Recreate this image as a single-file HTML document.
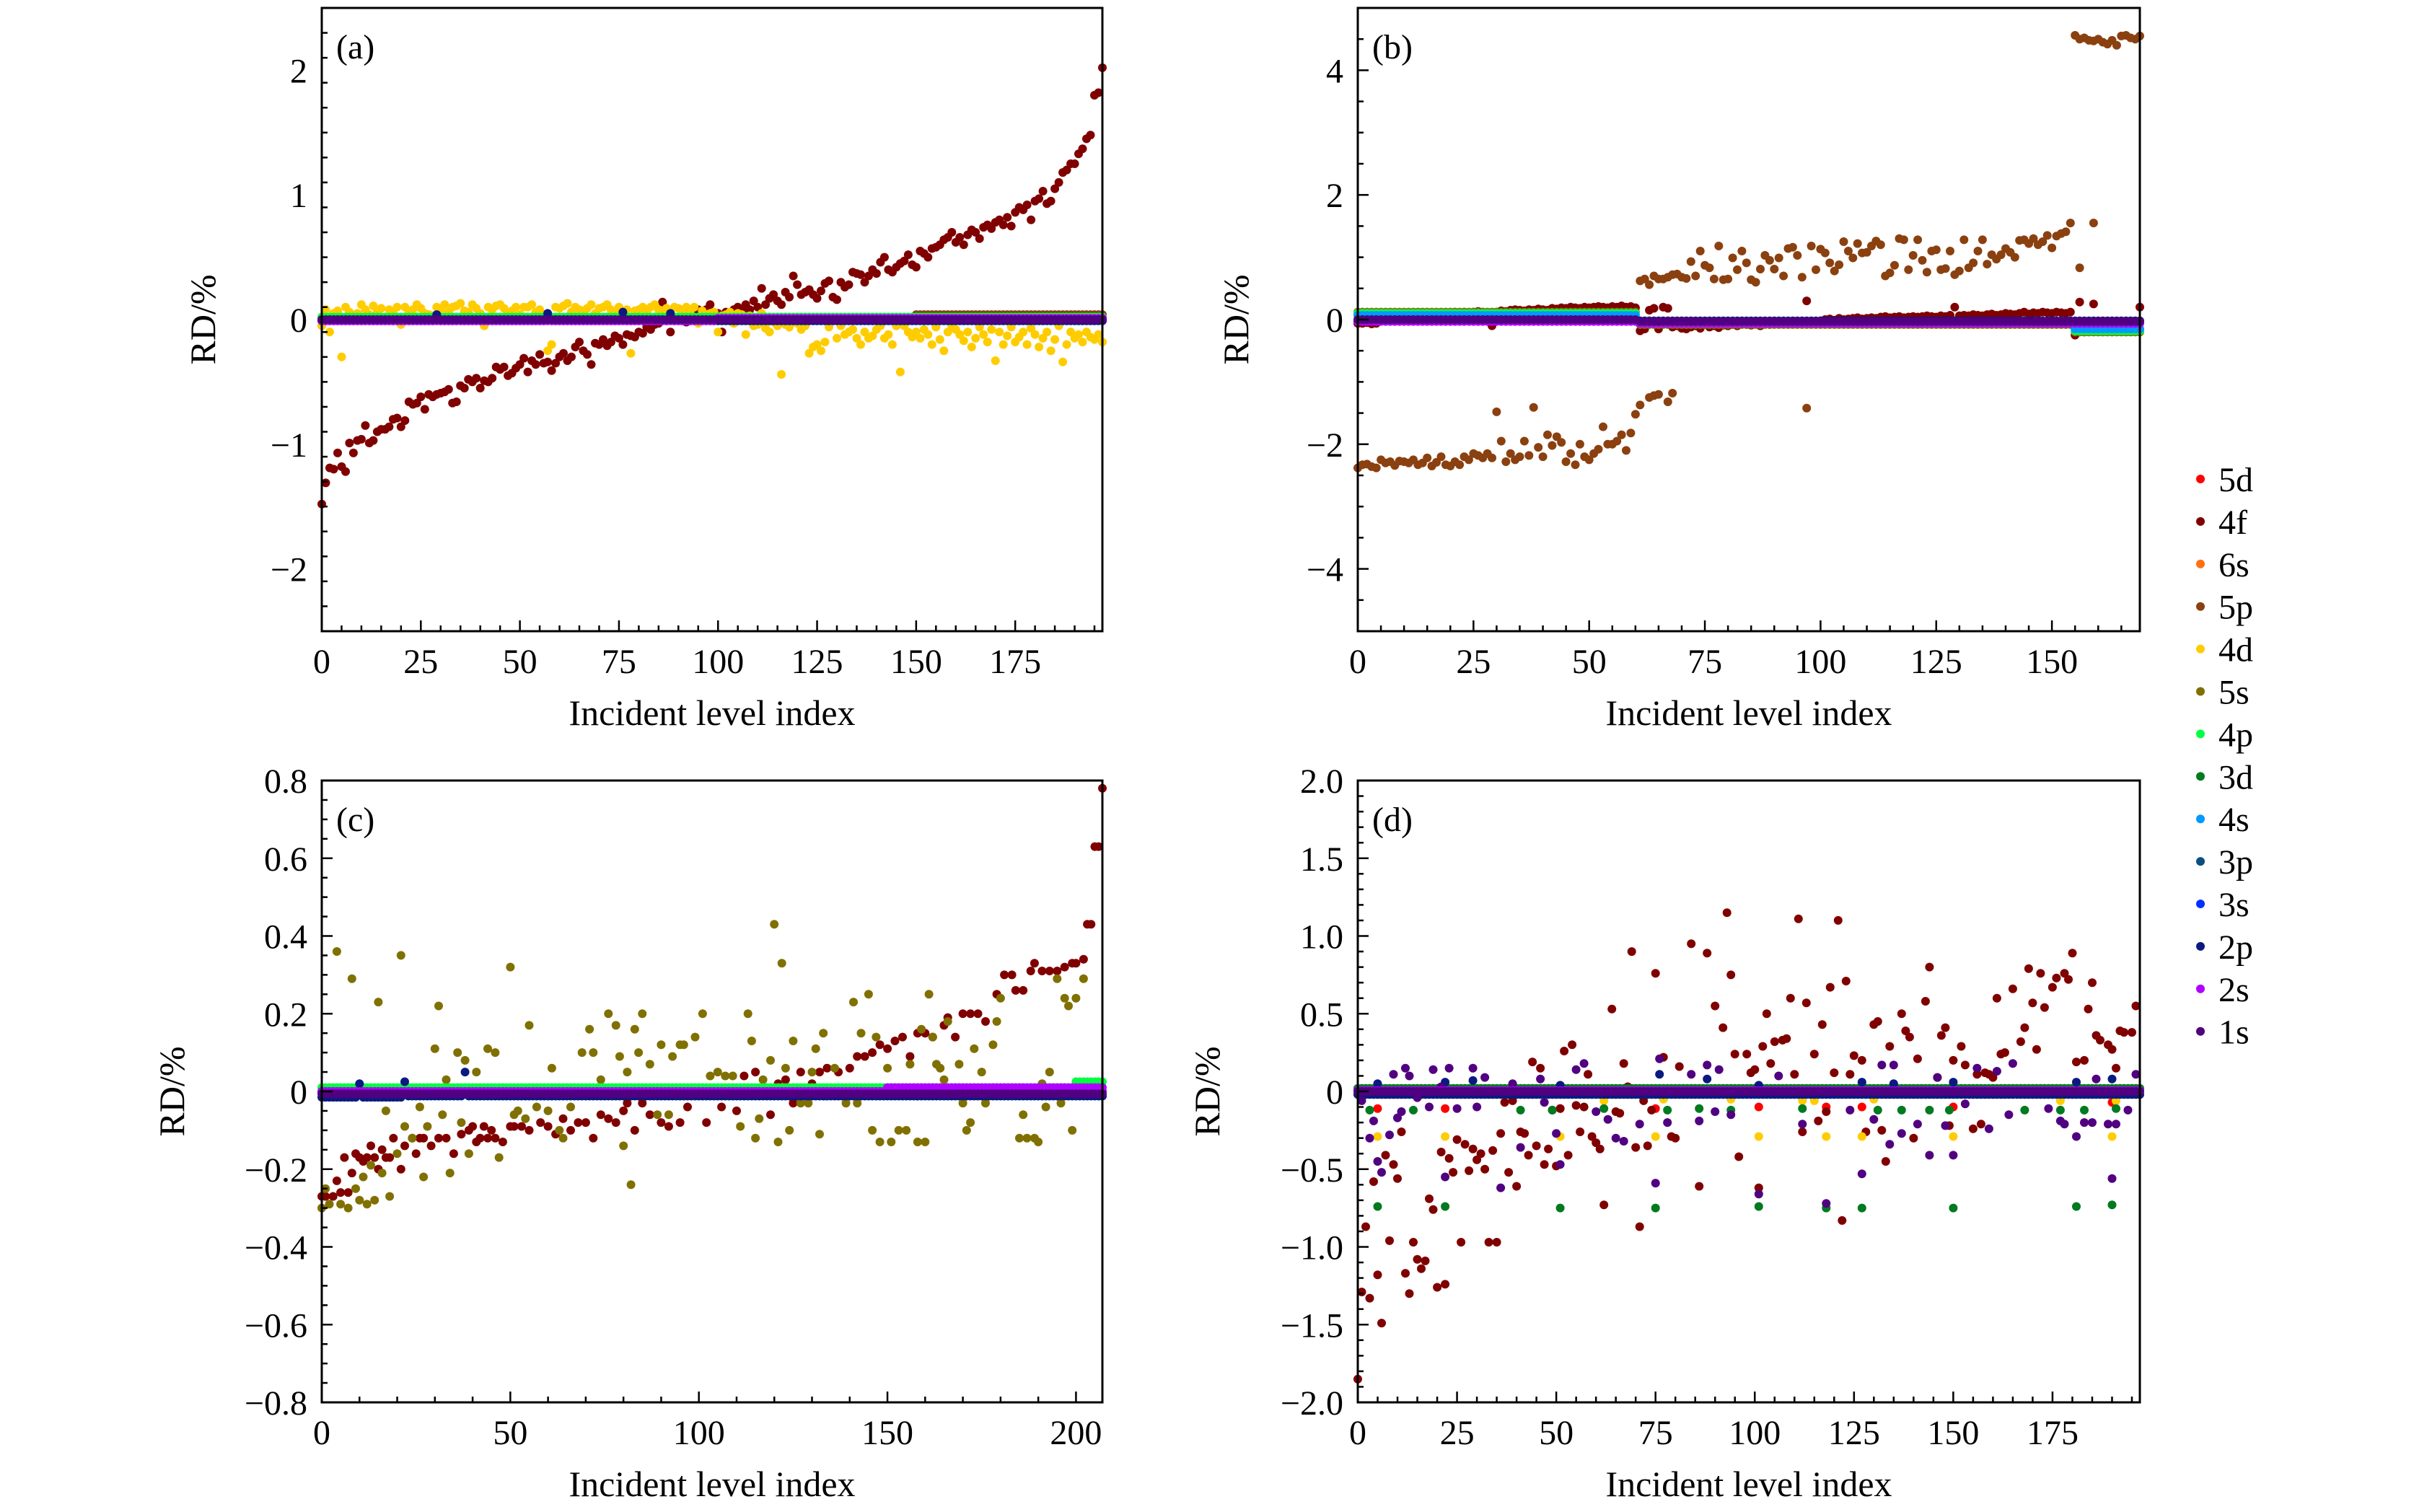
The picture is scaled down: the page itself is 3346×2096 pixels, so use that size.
<!DOCTYPE html>
<html><head><meta charset="utf-8"><title>RD scatter</title>
<style>
html,body{margin:0;padding:0;background:#fff;}
svg{display:block;font-family:"Liberation Serif",serif;}
</style></head>
<body>
<svg id="fig" xmlns="http://www.w3.org/2000/svg" width="3346" height="2096" viewBox="0 0 3346 2096"></svg>
<script>
// ---------- DATA ----------
const legendNames = ["5d","4f","6s","5p","4d","5s","4p","3d","4s","3p","3s","2p","2s","1s"];
const legendColors = ["#ff0000","#800000","#ff7010","#8b4010","#ffcc00","#807000","#00ff40","#007a20","#0099ff","#0a4f80","#0030ff","#0a1a80","#b000ff","#500080"];

// panel (a)
const a_4f = [-1.48,-1.31,-1.19,-1.2,-1.07,-1.18,-1.22,-0.99,-1.07,-0.97,
-0.96,-0.85,-0.99,-0.97,-0.9,-0.88,-0.88,-0.86,-0.8,-0.79,
-0.86,-0.81,-0.66,-0.68,-0.67,-0.62,-0.72,-0.6,-0.62,-0.6,
-0.59,-0.58,-0.56,-0.67,-0.66,-0.53,-0.55,-0.48,-0.5,-0.47,
-0.55,-0.49,-0.5,-0.47,-0.38,-0.4,-0.38,-0.45,-0.43,-0.39,
-0.36,-0.31,-0.42,-0.33,-0.36,-0.28,-0.35,-0.34,-0.41,-0.35,
-0.3,-0.27,-0.33,-0.3,-0.22,-0.18,-0.25,-0.28,-0.36,-0.19,
-0.2,-0.16,-0.21,-0.18,-0.13,-0.15,-0.2,-0.12,-0.13,-0.14,
-0.1,-0.11,-0.06,-0.08,-0.04,-0.03,0.14,-0.01,-0.1,0.02,
0.0,0.03,-0.02,0.04,0.05,0.08,0.07,0.08,0.12,0.04,
0.05,-0.1,0.06,0.04,0.08,0.1,0.07,0.12,0.08,0.15,
0.1,0.25,0.12,0.17,0.2,0.15,0.12,0.22,0.18,0.35,
0.28,0.2,0.22,0.24,0.2,0.17,0.23,0.29,0.31,0.18,
0.16,0.3,0.26,0.28,0.38,0.37,0.36,0.3,0.35,0.4,
0.37,0.46,0.5,0.4,0.38,0.42,0.45,0.47,0.52,0.44,
0.42,0.55,0.53,0.5,0.57,0.58,0.6,0.64,0.66,0.7,
0.62,0.66,0.6,0.68,0.72,0.7,0.65,0.74,0.76,0.73,
0.78,0.8,0.76,0.82,0.75,0.86,0.9,0.88,0.92,0.8,
0.95,0.97,1.03,0.93,0.95,1.05,1.1,1.18,1.2,1.25,
1.25,1.33,1.37,1.45,1.48,1.8,1.82,2.02];
const a_4d = [-0.05,0.08,-0.1,0.05,0.07,-0.3,0.1,0.06,0.02,0.05,
0.12,0.08,0.04,0.11,0.06,0.09,0.02,0.08,0.05,0.1,
-0.04,0.1,0.06,0.08,0.12,0.09,0.05,0.04,0.03,0.1,
0.08,0.12,0.06,0.1,0.11,0.13,0.07,0.06,0.12,0.09,
0.05,-0.05,0.1,0.08,0.11,0.12,0.09,0.05,0.07,0.1,
0.04,0.1,0.1,0.12,0.06,0.08,0.04,-0.25,-0.2,0.1,
0.09,0.11,0.13,0.06,0.1,0.08,0.07,0.09,0.12,0.05,
0.09,0.1,0.12,0.08,0.05,0.1,0.06,0.08,-0.27,0.07,
0.08,0.1,0.06,0.1,0.12,0.08,0.07,0.09,0.05,0.1,
0.09,0.06,0.1,0.07,0.1,-0.03,0.07,0.04,0.05,0.06,
-0.1,0.03,0.04,0.06,-0.03,0.05,0.04,-0.12,0.03,-0.05,
-0.04,0.05,-0.07,-0.1,-0.02,-0.05,-0.44,-0.04,-0.06,0.0,
-0.03,-0.08,-0.05,-0.27,-0.22,-0.2,-0.25,-0.18,-0.06,0.0,
-0.15,-0.05,-0.12,-0.1,-0.08,-0.15,-0.2,-0.1,-0.15,-0.13,
-0.08,-0.05,-0.15,-0.12,-0.2,-0.05,-0.42,-0.05,-0.1,-0.14,
-0.1,-0.15,-0.08,-0.12,-0.2,-0.06,-0.16,-0.25,-0.1,-0.05,
-0.08,-0.12,-0.17,-0.1,-0.22,-0.15,-0.06,-0.12,-0.18,-0.08,
-0.33,-0.1,-0.2,-0.13,-0.06,-0.18,-0.14,-0.1,-0.2,-0.07,
-0.12,-0.22,-0.15,-0.1,-0.25,-0.16,-0.05,-0.34,-0.2,-0.1,
-0.15,-0.12,-0.18,-0.1,-0.14,-0.16,-0.12,-0.18];
// band series as run-length data: [count, value]
const a_5p_runs = [[150,0.0],[48,0.04]];
const a_4p_runs = [[198,0.02]];
const a_2p_runs = [[29,-0.01],[1,0.04],[27,-0.01],[1,0.05],[18,-0.01],[1,0.06],[11,-0.01],[1,0.05],[109,-0.01]];
const a_2s_runs = [[100,-0.01],[98,0.01]];
const a_1s_runs = [[198,0.0]];

// panel (b)
const b_5p = [-2.38,-2.33,-2.32,-2.36,-2.38,-2.25,-2.3,-2.28,-2.34,-2.27,
-2.28,-2.3,-2.25,-2.33,-2.3,-2.22,-2.35,-2.29,-2.2,-2.33,
-2.35,-2.28,-2.33,-2.2,-2.25,-2.15,-2.18,-2.22,-2.15,-2.22,
-1.48,-1.95,-2.28,-2.15,-2.25,-2.2,-1.95,-2.18,-1.41,-2.05,
-2.2,-1.85,-2.02,-1.88,-1.97,-2.28,-2.15,-2.33,-2.0,-2.2,
-2.25,-2.15,-2.08,-1.72,-2.0,-2.0,-1.95,-1.85,-2.1,-1.82,-1.52,
0.62,0.65,0.56,0.7,0.65,0.65,0.68,0.72,0.73,0.68,
0.66,0.93,0.7,1.1,0.87,0.83,0.65,1.18,0.64,0.65,
0.99,0.8,1.1,0.91,0.64,0.6,0.81,1.03,0.95,0.81,
0.99,0.7,1.14,1.16,1.03,0.68,-1.42,1.18,0.8,1.13,
1.07,0.91,0.78,0.88,1.25,1.1,0.99,1.22,1.07,1.08,
1.18,1.26,1.2,0.7,0.75,0.87,1.3,1.28,0.8,1.03,
1.28,0.95,0.76,1.1,1.12,0.8,0.82,1.1,0.72,0.78,
1.28,0.83,0.91,1.1,1.28,0.89,1.04,0.97,1.04,1.14,
1.08,1.0,1.27,1.28,1.22,1.3,1.2,1.25,1.35,1.15,
1.34,1.38,1.41,1.55,
4.56,4.5,4.52,4.48,4.47,4.5,4.45,4.42,4.48,4.4,4.55,4.56,4.52,4.5,4.55];
const b_5p_extra_idx = [61,63,64,65,67,68,156,159];
const b_5p_extra_val = [-1.37,-1.25,-1.22,-1.2,-1.32,-1.18,0.83,1.55];
const b_4f = [-0.06,-0.06,-0.05,-0.07,-0.06,0.02,0.05,0.04,0.06,0.05,
0.06,0.08,0.07,0.09,0.08,0.1,0.09,0.1,0.11,0.1,
0.1,0.12,0.11,0.12,0.1,0.12,0.13,0.12,0.11,-0.1,
0.12,0.14,0.13,0.15,0.16,0.15,0.14,0.16,0.15,0.17,
0.16,0.15,0.18,0.17,0.19,0.18,0.2,0.19,0.18,0.2,
0.19,0.2,0.21,0.2,0.19,0.21,0.2,0.22,0.2,0.21,0.19,
-0.18,-0.15,0.15,0.18,-0.15,0.2,0.18,-0.12,-0.1,-0.14,
-0.15,-0.12,-0.1,-0.14,-0.08,-0.12,-0.1,-0.13,-0.09,-0.1,
-0.08,-0.1,-0.06,-0.08,-0.09,-0.07,-0.1,-0.06,-0.08,-0.07,
-0.06,-0.05,-0.07,-0.04,-0.05,-0.03,0.3,-0.04,-0.03,-0.02,
0.0,0.01,-0.01,0.02,0.0,0.01,0.02,0.03,0.01,0.02,
0.03,0.02,0.04,0.05,0.03,0.04,0.05,0.03,0.04,0.05,
0.04,0.05,0.06,0.05,0.04,0.06,0.05,0.07,0.2,0.06,
0.07,0.06,0.08,0.07,0.06,0.08,0.09,0.07,0.08,0.1,
0.09,0.08,0.1,0.12,0.09,0.11,0.1,0.12,0.11,0.1,
0.12,0.11,0.1,0.12,-0.25,0.28,-0.2,-0.05,0.25,-0.05,
-0.06,-0.05,-0.04,-0.06,-0.05,-0.04,-0.05,-0.06,0.2];
const b_5s_runs = [[61,0.12],[94,-0.08],[15,-0.2]];
const b_4p_runs = [[61,0.1],[94,-0.06],[15,-0.18]];
const b_4s_runs = [[61,0.07],[94,-0.04],[15,-0.15]];
const b_2p_runs = [[170,-0.02]];
const b_2s_runs = [[61,-0.03],[109,-0.06]];
const b_1s_runs = [[61,0.0],[109,-0.03]];

// panel (c)
const c_4f_idx = [0,1,3,4,5,6,7,8,9,10,11,12,13,14,15,16,17,18,19,21,22,24,25,26,27,29,31,33,35,37,39,40,41,42,43,44,45,46,48,50,51,53,55,58,60,62,64,66,68,70,72,74,76,78,80,81,83,85,87,90,92,95,97,102,106,110,112,115,119,121,123,125,127,130,132,134,137,140,142,144,146,148,150,152,154,156,158,160,162,165,166,168,170,172,174,176,179,181,183,184,186,188,189,191,193,195,197,199,200,202,203,204,205,206,207];
const c_4f_val = [-0.27,-0.27,-0.27,-0.23,-0.26,-0.17,-0.26,-0.21,-0.16,-0.17,-0.18,-0.17,-0.14,-0.17,-0.2,-0.15,-0.17,-0.17,-0.12,-0.2,-0.14,-0.12,-0.16,-0.12,-0.12,-0.14,-0.12,-0.12,-0.16,-0.11,-0.1,-0.09,-0.13,-0.12,-0.09,-0.12,-0.1,-0.12,-0.13,-0.09,-0.09,-0.09,-0.1,-0.08,-0.09,-0.11,-0.07,-0.1,-0.08,-0.08,-0.12,-0.06,-0.07,-0.08,-0.05,-0.03,-0.1,-0.03,-0.06,-0.08,-0.09,-0.08,-0.04,-0.08,-0.04,-0.05,0.04,0.05,-0.06,0.02,0.03,-0.03,0.05,0.02,0.05,0.06,0.05,0.06,0.09,0.09,0.1,0.12,0.11,0.13,0.14,0.09,0.15,0.15,0.14,0.17,0.19,0.14,0.2,0.2,0.2,0.18,0.25,0.3,0.3,0.26,0.26,0.31,0.33,0.31,0.31,0.31,0.32,0.33,0.33,0.34,0.43,0.43,0.63,0.63,0.78];
const c_5s_idx = [0,1,2,4,5,7,8,9,10,11,12,13,14,15,16,17,18,20,21,22,24,26,27,28,30,31,32,33,34,36,37,38,39,41,44,46,47,50,51,52,54,55,57,60,61,63,64,66,69,71,72,74,76,78,79,80,81,82,83,84,85,87,89,90,92,93,95,96,99,101,103,105,107,109,111,113,114,115,116,117,119,120,121,122,123,124,125,127,129,130,131,132,133,136,139,141,142,143,145,146,147,148,150,151,153,155,156,158,159,160,161,162,163,164,165,166,169,170,171,172,173,175,176,178,179,180,185,186,187,189,190,191,192,193,195,196,197,198,199,200,202];
const c_5s_val = [-0.3,-0.25,-0.29,0.36,-0.29,-0.3,0.29,-0.25,-0.28,-0.22,-0.29,-0.19,-0.28,0.23,-0.21,-0.05,-0.27,-0.16,0.35,-0.09,-0.12,-0.04,-0.22,-0.09,0.11,0.22,-0.06,0.03,-0.21,0.1,-0.08,0.08,-0.16,0.05,0.11,0.1,-0.17,0.32,-0.06,-0.05,-0.07,0.17,-0.04,-0.05,0.06,-0.1,-0.12,-0.04,0.1,0.16,0.1,0.03,0.2,0.17,0.09,-0.14,0.05,-0.24,0.16,0.1,0.2,0.07,-0.06,0.12,-0.06,0.09,0.12,0.12,0.14,0.2,0.04,0.05,0.04,0.04,-0.09,0.2,0.13,-0.12,-0.07,0.03,0.08,0.43,-0.13,0.33,0.06,-0.1,0.13,-0.03,-0.03,0.05,0.11,-0.11,0.15,0.06,-0.03,0.23,-0.03,0.15,0.25,-0.1,0.14,-0.13,0.06,-0.13,-0.1,-0.1,0.07,-0.13,0.16,-0.13,0.25,0.14,0.07,0.06,0.03,0.18,0.07,-0.03,-0.1,-0.08,0.11,0.05,-0.03,0.12,0.18,0.24,-0.12,-0.06,-0.12,-0.12,-0.13,0.02,-0.04,0.05,0.29,-0.03,0.24,0.22,-0.1,0.24,0.29];
const c_4p_runs = [[200,0.01],[8,0.025]];
const c_3p_runs = [[208,0.0]];
const c_2p_runs = [[10,-0.015],[1,0.02],[11,-0.015],[1,0.025],[15,-0.012],[1,0.05],[169,-0.012]];
const c_1s_runs = [[208,-0.006]];
const c_2s_runs = [[150,0.0],[58,0.01]];

// panel (d)
const d_4f_idx = [0,1,2,3,4,5,6,7,8,9,10,11,12,13,14,15,16,17,18,19,20,21,22,23,24,25,26,27,28,29,30,31,32,33,34,35,36,37,38,39,40,41,42,43,44,45,46,47,48,49,50,51,52,53,54,55,56,57,58,59,60,61,62,64,65,66,67,68,69,70,71,72,73,74,75,77,79,80,81,84,86,88,90,92,93,94,95,96,98,99,100,101,102,103,104,105,107,108,109,110,111,112,113,115,116,117,118,119,120,121,122,123,124,125,127,128,130,131,132,133,134,137,138,139,140,141,143,144,146,147,148,149,150,152,153,155,156,157,158,159,160,161,162,163,165,167,168,169,170,171,172,173,175,176,178,179,180,181,183,184,185,186,187,189,190,191,192,193,195,196];
const d_4f_val = [-1.85,-1.29,-0.87,-1.33,-0.58,-1.18,-1.49,-0.41,-0.96,-0.47,-0.56,-0.26,-1.17,-1.3,-0.97,-1.08,-1.14,-1.09,-0.69,-0.76,-1.26,-0.39,-1.24,-0.43,-0.52,-0.31,-0.97,-0.34,-0.51,-0.37,-0.44,-0.4,-0.5,-0.97,-0.38,-0.97,-0.27,-0.07,-0.52,-0.06,-0.61,-0.26,-0.27,-0.41,0.19,-0.35,0.15,-0.47,-0.37,-0.12,-0.48,-0.11,0.26,-0.41,0.3,-0.09,-0.26,-0.1,0.11,-0.29,-0.33,-0.37,-0.73,0.53,-0.13,-0.14,0.18,0.03,0.9,-0.36,-0.87,-0.06,-0.35,-0.12,0.76,0.22,-0.29,-0.3,0.16,0.95,-0.61,0.89,0.55,0.41,1.15,0.75,0.24,-0.42,0.24,0.12,0.14,-0.62,0.29,0.5,0.18,0.32,0.33,0.34,0.6,0.11,1.11,-0.26,0.57,0.24,-0.19,0.43,-0.13,0.67,0.12,1.1,-0.83,0.71,0.11,0.23,0.2,-0.26,0.43,0.45,-0.25,-0.45,0.29,0.5,0.39,0.35,-0.3,0.21,0.58,0.8,0.09,0.36,0.41,-0.22,0.2,0.29,0.17,-0.24,0.11,-0.21,0.12,0.11,0.09,0.6,0.24,0.25,0.66,0.32,0.41,0.79,0.57,0.27,0.76,0.54,0.67,0.73,0.76,0.72,0.89,0.19,0.2,0.53,0.7,0.36,0.33,0.3,0.27,0.15,0.39,0.38,0.38,0.55];
const d_1s_idx = [1,3,4,5,6,8,9,10,11,12,13,15,18,19,21,22,23,25,29,30,32,36,39,41,46,47,50,51,55,57,60,63,65,67,71,75,76,78,84,86,88,90,91,94,101,106,112,118,124,127,130,132,134,135,137,141,144,146,148,150,153,156,159,161,164,165,174,177,178,181,183,185,186,189,190,191,194,196];
const d_1s_val = [-0.06,-0.3,-0.19,-0.45,-0.52,-0.28,0.11,-0.17,-0.13,0.15,0.1,-0.04,-0.1,0.14,0.03,-0.55,0.15,-0.11,0.15,-0.1,0.09,-0.62,0.05,-0.36,0.08,-0.07,-0.27,-0.47,0.14,0.18,-0.13,-0.18,-0.3,-0.32,-0.21,-0.59,0.21,-0.2,0.11,-0.19,0.17,-0.13,0.14,-0.15,-0.66,0.1,-0.21,-0.72,-0.12,-0.53,-0.18,0.17,-0.34,0.17,-0.27,-0.21,-0.41,0.09,-0.22,-0.41,-0.08,0.15,-0.24,0.13,-0.15,0.18,-0.11,-0.19,-0.21,-0.29,-0.2,-0.2,0.08,-0.21,-0.56,-0.21,-0.12,0.11];
const d_3d_idx = [3,5,14,22,41,49,51,62,75,78,86,94,101,112,118,127,131,137,144,149,150,168,177,181,183,190,191];
const d_3d_val = [-0.12,-0.74,-0.12,-0.74,-0.12,-0.12,-0.75,-0.11,-0.75,-0.12,-0.11,-0.12,-0.74,-0.11,-0.75,-0.75,-0.12,-0.12,-0.12,-0.12,-0.75,-0.12,-0.12,-0.74,-0.12,-0.73,-0.11];
const d_4d_idx = [5,22,51,62,75,77,94,101,112,115,118,127,130,150,177,190,191];
const d_4d_val = [-0.29,-0.29,-0.29,-0.06,-0.29,-0.05,-0.05,-0.29,-0.06,-0.06,-0.29,-0.29,-0.05,-0.29,-0.06,-0.29,-0.06];
const d_5d_idx = [5,22,51,75,101,118,127,150,190];
const d_5d_val = [-0.11,-0.11,-0.11,-0.11,-0.1,-0.1,-0.1,-0.1,-0.07];
const d_2p_idx = [5,22,29,51,76,88,101,127,135,150,181,190];
const d_2p_val = [0.05,0.06,0.07,0.04,0.11,0.08,0.04,0.06,0.05,0.06,0.06,0.08];
const d_3d_runs = [[198,0.02]];
const d_2p_runs = [[198,-0.02]];
const d_1s_runs = [[198,0.0]];
const d_2s_runs = [[198,0.005]];

// tick labels
const a_xticks = [0,25,50,75,100,125,150,175];
const a_yticks = [-2,-1,0,1,2];
const b_xticks = [0,25,50,75,100,125,150];
const b_yticks = [-4,-2,0,2,4];
const c_xticks = [0,50,100,150,200];
const c_yticks = [-0.8,-0.6,-0.4,-0.2,0,0.2,0.4,0.6,0.8];
const d_xticks = [0,25,50,75,100,125,150,175];
const d_yticks = [-2.0,-1.5,-1.0,-0.5,0,0.5,1.0,1.5,2.0];

// ---------- RENDER ----------
const NS = "http://www.w3.org/2000/svg";
const svg = document.getElementById('fig');
const C = {}; legendNames.forEach((n,i)=>C[n]=legendColors[i]);
function rle(runs){ const out=[]; runs.forEach(r=>{for(let k=0;k<r[0];k++) out.push(r[1]);}); return out; }
function el(tag, attrs, parent){ const e=document.createElementNS(NS,tag); for(const k in attrs) e.setAttribute(k,attrs[k]); (parent||svg).appendChild(e); return e; }
function fmt(v,dec){ const s = v===0 ? "0" : Math.abs(v).toFixed(dec); return (v<0?"\u2212":"")+s; }

function makePanel(cfg){
  const g = el('g',{});
  
  
  const X = v => cfg.x0 + (v-cfg.xmin)/(cfg.xmax-cfg.xmin)*(cfg.x1-cfg.x0);
  const Y = v => cfg.y1 - (v-cfg.ymin)/(cfg.ymax-cfg.ymin)*(cfg.y1-cfg.y0);
  const pts = el('g',{}, g);
  
  
  cfg.series.forEach(s=>{
    const sg = el('g',{fill:C[s.name]}, pts);
    
    
    const xs = s.idx || s.val.map((_,i)=>i);
    const n = Math.min(xs.length, s.val.length);
    for(let i=0;i<n;i++){
      const yv = Math.max(cfg.ymin, Math.min(cfg.ymax, s.val[i]));
      const c = el('circle',{cx:X(xs[i]).toFixed(1), cy:Y(yv).toFixed(1), r:6}, sg);
      
      
    }
  });
  const fr = el('rect',{x:cfg.x0,y:cfg.y0,width:cfg.x1-cfg.x0,height:cfg.y1-cfg.y0,fill:'none',stroke:'#000','stroke-width':3}, g);
  
  
  const tg = el('g',{stroke:'#000','stroke-width':2.5}, g);
  
  
  for(let v=cfg.xmin; v<=cfg.xmax+1e-9; v+=cfg.xminor){
    const major = Math.abs(v/cfg.xmajor - Math.round(v/cfg.xmajor))<1e-6;
    el('line',{x1:X(v),x2:X(v),y1:cfg.y1,y2:cfg.y1-(major?15:8)}, tg);
  }
  const ny = Math.round((cfg.ymax-cfg.ymin)/cfg.yminor);
  for(let k=0;k<=ny;k++){
    const v = cfg.ymin + k*cfg.yminor;
    const major = Math.abs(v/cfg.ymajor - Math.round(v/cfg.ymajor))<1e-6;
    el('line',{x1:cfg.x0,x2:cfg.x0+(major?15:8),y1:Y(v),y2:Y(v)}, tg);
  }
  cfg.xticks.forEach(v=>{
    const t = el('text',{x:X(v), y:cfg.y1+58, 'text-anchor':'middle','font-size':48}, g);
    
    
    t.textContent = String(v);
  });
  cfg.yticks.forEach(v=>{
    const t = el('text',{x:cfg.x0-20, y:Y(v)+17, 'text-anchor':'end','font-size':48}, g);
    
    
    t.textContent = fmt(v, cfg.ydec);
  });
  const xt = el('text',{x:(cfg.x0+cfg.x1)/2, y:cfg.y1+130, 'text-anchor':'middle','font-size':50}, g);
  
  
  xt.textContent = 'Incident level index';
  const yc = (cfg.y0+cfg.y1)/2;
  const yt = el('text',{x:cfg.ytx, y:yc, 'text-anchor':'middle','font-size':50, transform:`rotate(-90 ${cfg.ytx} ${yc})`}, g);
  
  
  yt.textContent = 'RD/%';
  const pl = el('text',{x:cfg.x0+20, y:cfg.y0+70, 'font-size':48}, g);
  
  
  pl.textContent = '('+cfg.id+')';
}

makePanel({id:'a', x0:446,x1:1528,y0:11,y1:875, xmin:0,xmax:197,ymin:-2.5,ymax:2.5, xmajor:25,xminor:5,ymajor:1,yminor:0.2, ydec:0, ytx:298,
  xticks:a_xticks, yticks:a_yticks,
  series:[{name:'4f',val:a_4f},{name:'5p',val:rle(a_5p_runs)},{name:'4d',val:a_4d},{name:'4p',val:rle(a_4p_runs)},{name:'2p',val:rle(a_2p_runs)},{name:'2s',val:rle(a_2s_runs)},{name:'1s',val:rle(a_1s_runs)}]});
makePanel({id:'b', x0:1882,x1:2966,y0:11,y1:875, xmin:0,xmax:169,ymin:-5,ymax:5, xmajor:25,xminor:5,ymajor:2,yminor:0.5, ydec:0, ytx:1730,
  xticks:b_xticks, yticks:b_yticks,
  series:[{name:'4f',val:b_4f},{name:'5p',val:b_5p},{name:'5p',idx:b_5p_extra_idx,val:b_5p_extra_val},{name:'5s',val:rle(b_5s_runs)},{name:'4p',val:rle(b_4p_runs)},{name:'4s',val:rle(b_4s_runs)},{name:'2p',val:rle(b_2p_runs)},{name:'2s',val:rle(b_2s_runs)},{name:'1s',val:rle(b_1s_runs)}]});
makePanel({id:'c', x0:446,x1:1528,y0:1082,y1:1944, xmin:0,xmax:207,ymin:-0.8,ymax:0.8, xmajor:50,xminor:10,ymajor:0.2,yminor:0.05, ydec:1, ytx:255,
  xticks:c_xticks, yticks:c_yticks,
  series:[{name:'4f',idx:c_4f_idx,val:c_4f_val},{name:'5s',idx:c_5s_idx,val:c_5s_val},{name:'4p',val:rle(c_4p_runs)},{name:'3p',val:rle(c_3p_runs)},{name:'2p',val:rle(c_2p_runs)},{name:'2s',val:rle(c_2s_runs)},{name:'1s',val:rle(c_1s_runs)}]});
makePanel({id:'d', x0:1882,x1:2966,y0:1082,y1:1944, xmin:0,xmax:197,ymin:-2,ymax:2, xmajor:25,xminor:5,ymajor:0.5,yminor:0.1, ydec:1, ytx:1690,
  xticks:d_xticks, yticks:d_yticks,
  series:[{name:'5d',idx:d_5d_idx,val:d_5d_val},{name:'4f',idx:d_4f_idx,val:d_4f_val},{name:'4d',idx:d_4d_idx,val:d_4d_val},{name:'3d',idx:d_3d_idx,val:d_3d_val},{name:'3d',val:rle(d_3d_runs)},{name:'2p',idx:d_2p_idx,val:d_2p_val},{name:'2p',val:rle(d_2p_runs)},{name:'1s',idx:d_1s_idx,val:d_1s_val},{name:'2s',val:rle(d_2s_runs)},{name:'1s',val:rle(d_1s_runs)}]});

// legend
const lg = el('g',{});


legendNames.forEach((n,i)=>{
  const y = 664 + i*58.9;
  const e = el('g',{}, lg);
  
  
  el('circle',{cx:3050, cy:y, r:6, fill:legendColors[i]}, e);
  const t = el('text',{x:3075, y:y+17, 'font-size':48}, e);
  
  
  t.textContent = n;
});
</script>
</body></html>
